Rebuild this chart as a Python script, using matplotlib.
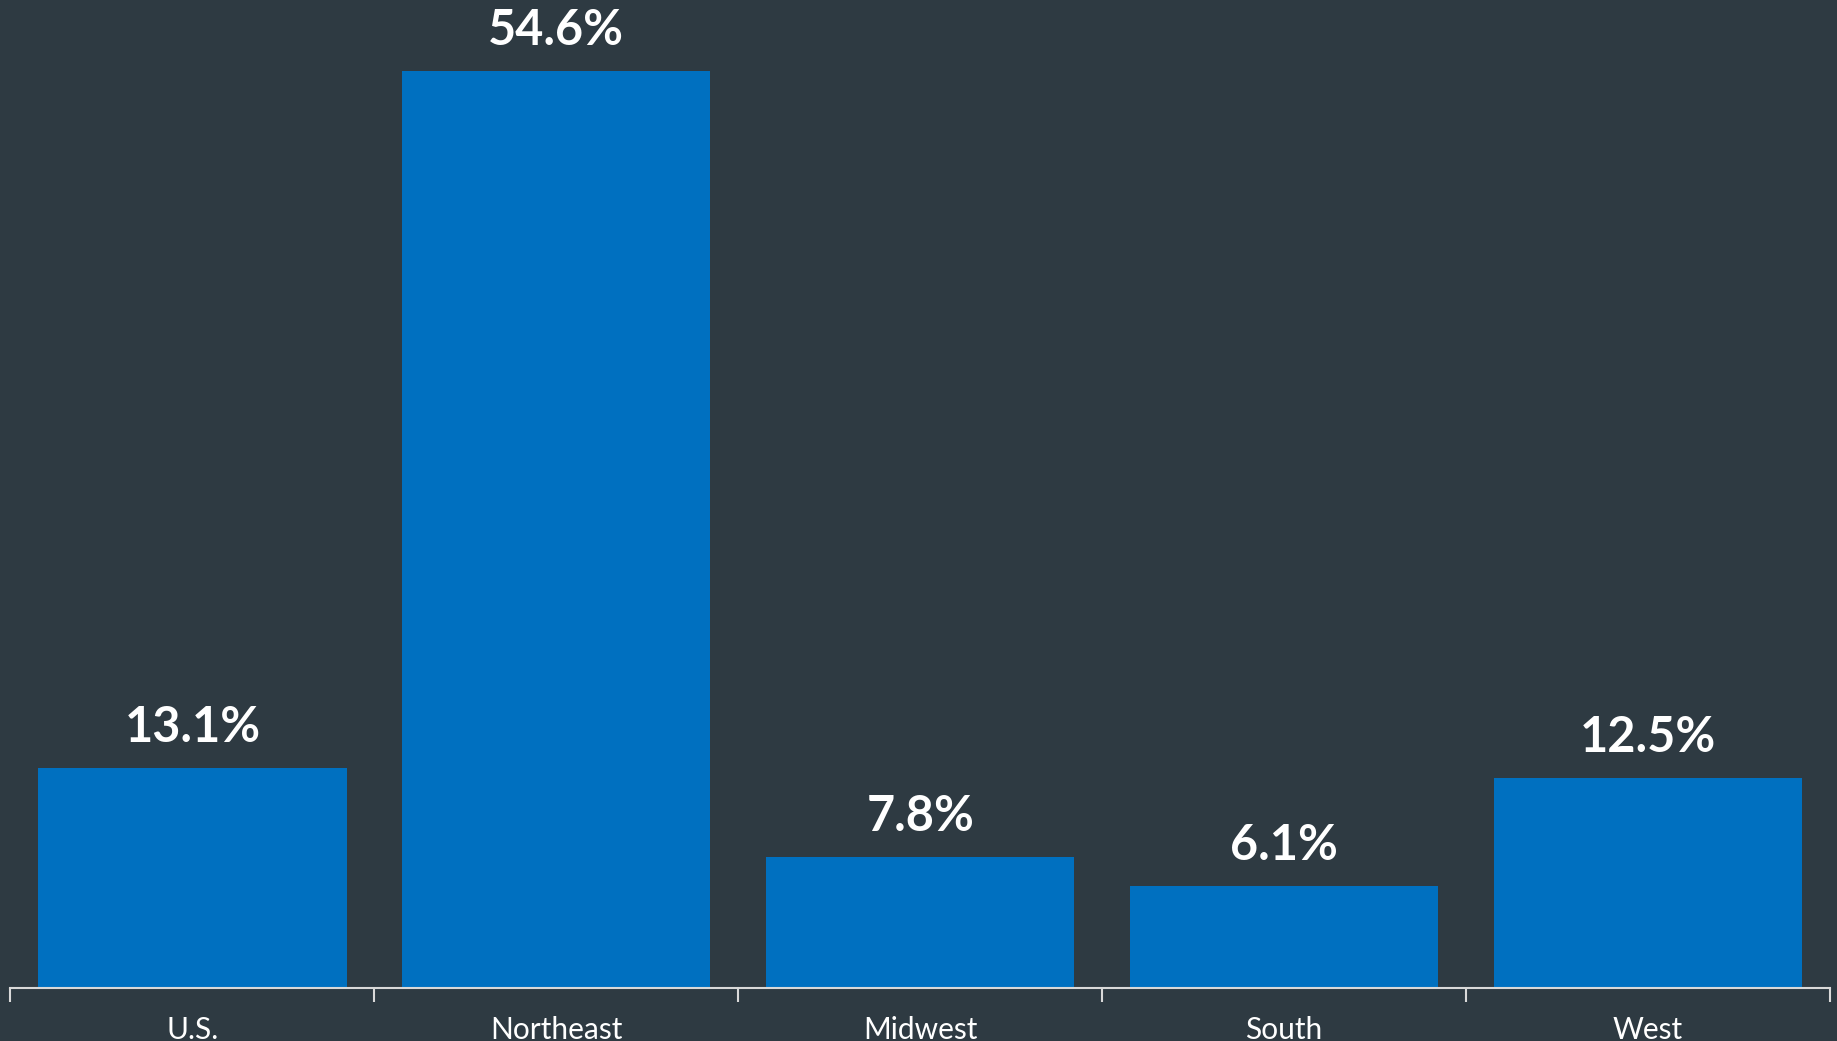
import matplotlib.pyplot as plt
import numpy as np

regions = ["U.S.", "Northeast", "Midwest", "South", "West"]
shares = [13.1, 54.6, 7.8, 6.1, 12.5]

bg = "#2e3a42"
bar_col = "#0070c0"
axis_col = "#d9d9d9"

fig = plt.figure(figsize=(18.37, 10.41), dpi=100, facecolor=bg)
ax = fig.add_axes([0.0057, 0.0509, 0.9905, 0.9491])
ax.set_facecolor(bg)

x = np.arange(len(regions))
bars = ax.bar(x, shares, width=0.847, color=bar_col)

# value labels above the bars
for b, v in zip(bars, shares):
    ax.annotate(f"{v}%", (b.get_x() + b.get_width() / 2, v),
                xytext=(0, 13), textcoords="offset points",
                ha="center", va="bottom", color="white",
                fontsize=35, fontweight="bold", family="Lato")

ax.set_xlim(-0.5, len(regions) - 0.5)
ax.set_ylim(0, 58.85)

for s in ["top", "right", "left"]:
    ax.spines[s].set_visible(False)
ax.spines["bottom"].set_color(axis_col)
ax.spines["bottom"].set_linewidth(1.5)

ax.set_yticks([])
ax.set_xticks(x)
ax.set_xticklabels(regions, color="white", fontsize=21.5, family="Lato")
ax.tick_params(axis="x", which="major", length=0, pad=20)
ax.set_xticks(np.arange(-0.5, len(regions)), minor=True)
ax.tick_params(axis="x", which="minor", length=10, width=1.5, color=axis_col)

fig.savefig("out.png", dpi=100, facecolor=bg)
